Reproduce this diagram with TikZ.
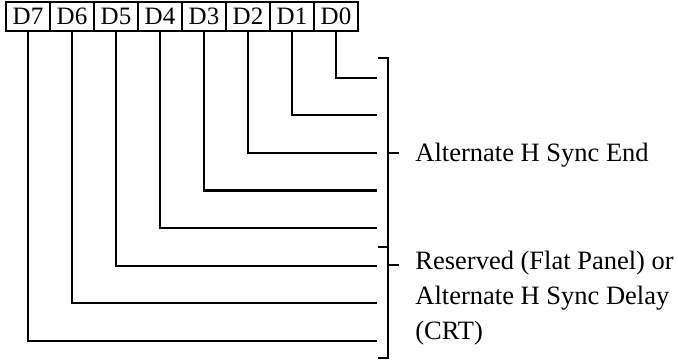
\documentclass[tikz,border=0pt]{standalone}
\usepackage{fontspec}
\setmainfont{Liberation Serif}
\usetikzlibrary{calc,positioning}
\tikzset{bitbox/.style={draw, line width=1pt, minimum width=22pt, minimum height=14.5pt, inner sep=0pt, font=\fontsize{12.5}{15}\selectfont},
  wire/.style={line width=1.1pt},
  note/.style={align=left, inner sep=0pt, font=\fontsize{13.25}{17.5}\selectfont}}

\begin{document}
\begin{tikzpicture}[x=0.5pt, y=-0.5pt]
  \useasboundingbox (0,0) rectangle (678,362);
  % bit boxes D7 ... D0
  \foreach \i in {7,...,0}
    \node[bitbox] (b\i) at ({28+44*(7-\i)},16.5) {D\i};
  % one wire per bit
  \foreach \i in {0,...,7} {
    \coordinate (e\i) at (377,{77.7+37.6*\i});
    \draw[wire] (b\i.south) |- (e\i);
  }
  % brackets
  \coordinate (top) at (378,58);
  \coordinate (mid) at (378,246.7);
  \coordinate (bot) at (378,358);
  \draw[wire] (top) -- ++(10,0) -- ($(bot)+(10,0)$) -- (bot);
  \draw[wire] (mid) -- ++(10,0);
  \draw[wire] (388,152.7) -- ++(11,0);
  \draw[wire] (388,265) -- ++(11,0);
  % field names
  \node[note, anchor=base west] (end) at (415,161.7) {Alternate H Sync End};
  \node[note, anchor=base west] (dly) at (415,340) {Reserved (Flat Panel) or\\Alternate H Sync Delay\\(CRT)};
\end{tikzpicture}
\end{document}
